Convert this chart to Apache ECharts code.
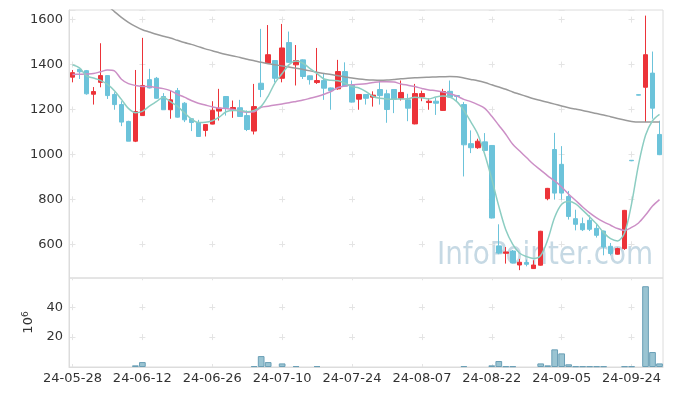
<!DOCTYPE html>
<html><head><meta charset="utf-8">
<script src="https://cdn.jsdelivr.net/npm/echarts@6/dist/echarts.min.js"></script>
<style>html,body{margin:0;padding:0;background:#fff}#c{width:673px;height:396px}</style>
</head><body><div id="c"></div>
<script>
const dates = ['24-05-28','24-05-29','24-05-30','24-05-31',
'24-06-03','24-06-04','24-06-05','24-06-07','24-06-10','24-06-11','24-06-12','24-06-13','24-06-14','24-06-17','24-06-18','24-06-19','24-06-20','24-06-21','24-06-24','24-06-25','24-06-26','24-06-27','24-06-28',
'24-07-01','24-07-02','24-07-03','24-07-04','24-07-05','24-07-08','24-07-09','24-07-10','24-07-11','24-07-12','24-07-15','24-07-16','24-07-17','24-07-18','24-07-19','24-07-22','24-07-23','24-07-24','24-07-25','24-07-26','24-07-29','24-07-30','24-07-31',
'24-08-01','24-08-02','24-08-05','24-08-06','24-08-07','24-08-08','24-08-09','24-08-12','24-08-13','24-08-14','24-08-16','24-08-19','24-08-20','24-08-21','24-08-22','24-08-23','24-08-26','24-08-27','24-08-28','24-08-29','24-08-30',
'24-09-02','24-09-03','24-09-04','24-09-05','24-09-06','24-09-09','24-09-10','24-09-11','24-09-12','24-09-13','24-09-19','24-09-20','24-09-23','24-09-24','24-09-25','24-09-26','24-09-27','24-09-30'];

const openP  = [1344,1379,1373,1268,1321,1351,1267,1222,1147,1059,1173,1333,1339,1258,1199,1284,1228,1159,1142,1107,1135,1193,1258,1200,1208,1173,1104,1317,1406,1418,1339,1498,1399,1421,1350,1320,1329,1296,1292,1369,1310,1246,1267,1255,1289,1270,1289,1250,1243,1136,1256,1231,1237,1196,1281,1262,1222,1048,1030,1056,1040,593,560,570,508,519,492,507,803,1022,956,813,714,692,707,671,659,591,556,581,974,1266,1299,1362,1089];
const closeP = [1364,1368,1270,1280,1351,1262,1222,1144,1059,1191,1307,1296,1250,1199,1243,1166,1154,1142,1080,1133,1196,1206,1208,1209,1169,1111,1213,1289,1444,1339,1474,1410,1418,1347,1333,1329,1295,1284,1369,1304,1233,1267,1250,1264,1262,1200,1246,1276,1206,1271,1271,1237,1228,1280,1255,1258,1043,1030,1059,1018,717,561,566,517,520,511,508,658,849,828,828,724,689,665,667,640,588,559,581,751,972,1264,1444,1206,999];
const lowP   = [1321,1336,1266,1222,1299,1247,1199,1126,1059,1055,1173,1294,1248,1199,1159,1164,1144,1104,1078,1080,1134,1151,1173,1163,1167,1104,1089,1255,1403,1321,1321,1408,1307,1336,1311,1314,1243,1199,1288,1302,1231,1199,1222,1213,1222,1141,1184,1240,1148,1134,1237,1199,1176,1194,1253,1235,902,1006,1025,1015,715,556,514,515,485,502,490,505,796,799,799,710,662,659,659,630,551,551,554,575,970,1263,1144,1159,997];
const highP  = [1376,1381,1376,1300,1495,1352,1277,1237,1150,1376,1519,1381,1345,1273,1284,1296,1233,1161,1154,1134,1237,1292,1260,1240,1243,1196,1314,1559,1576,1420,1581,1547,1487,1423,1352,1474,1361,1298,1421,1410,1329,1269,1269,1281,1329,1288,1291,1329,1270,1314,1284,1250,1252,1292,1329,1265,1233,1107,1070,1095,1042,689,588,575,535,532,529,660,851,1096,1037,837,754,719,729,689,661,606,585,753,975,1267,1618,1458,1150];

const ma5  = [1399,1385,1350,1340,1330,1312,1284,1245,1205,1186,1192,1215,1235,1255,1235,1215,1186,1158,1142,1143,1150,1166,1190,1196,1196,1190,1196,1214,1260,1320,1360,1400,1416,1406,1382,1360,1336,1330,1328,1317,1302,1296,1280,1258,1250,1247,1246,1247,1248,1255,1252,1247,1256,1260,1256,1235,1196,1145,1090,1000,890,770,665,600,560,545,537,550,620,720,778,790,780,752,722,690,652,625,615,650,780,955,1085,1150,1178];
const ma20 = [1356,1357,1358,1360,1368,1376,1372,1335,1315,1307,1303,1302,1298,1293,1284,1268,1255,1240,1228,1220,1212,1206,1205,1200,1192,1188,1190,1210,1215,1220,1225,1230,1236,1242,1250,1258,1268,1280,1298,1305,1310,1312,1315,1320,1324,1324,1322,1314,1308,1302,1294,1287,1284,1278,1270,1260,1245,1235,1222,1205,1170,1130,1090,1045,1015,985,955,930,905,882,855,823,795,766,740,718,700,685,670,662,675,695,730,770,799];
const ma60 = [1775,1750,1725,1703,1683,1662,1636,1610,1588,1570,1555,1545,1535,1526,1518,1508,1498,1490,1480,1470,1462,1453,1445,1438,1432,1424,1417,1410,1404,1399,1394,1389,1384,1378,1372,1366,1360,1356,1350,1345,1340,1336,1333,1331,1330,1331,1334,1337,1339,1341,1343,1344,1345,1346,1347,1346,1340,1334,1328,1320,1310,1300,1290,1278,1268,1258,1248,1240,1232,1224,1216,1208,1202,1196,1189,1182,1176,1168,1160,1153,1147,1144,1144,1144,1144];

// volume in millions (null: too small to show)
const volume = [null,null,null,null,null,null,null,null,null,1.1,3.3,null,null,null,null,null,null,null,null,null,null,null,null,null,null,null,0.6,7.3,3.3,null,2.4,null,0.6,null,null,0.6,null,null,null,null,null,null,null,null,null,null,null,null,null,null,null,null,null,null,null,null,0.6,null,null,null,1.1,4.0,0.5,0.5,null,null,null,2.4,1.1,11.8,9.1,1.8,0.5,0.5,0.5,0.5,0.5,null,null,0.5,0.5,null,54,10,2.4];

const UP = '#ec3339', DOWN = '#6cc3da';
const gridColor = '#e4e4e4';
const labelFont = {fontFamily: 'DejaVu Sans', fontSize: 13, color: '#333'};

const candleData = dates.map((d, i) => [openP[i], closeP[i], lowP[i], highP[i]]);

const chart = echarts.init(document.getElementById('c'), null, {renderer: 'canvas'});
chart.setOption({
  animation: false,
  backgroundColor: '#fff',
  grid: [
    {left: 69, top: 10, width: 594, height: 268, show: true, borderColor: '#dcdcdc', borderWidth: 1},
    {left: 69, top: 278, width: 594, height: 89, show: true, borderColor: '#dcdcdc', borderWidth: 1}
  ],
  graphic: [{
    type: 'text', x: 437, y: 256, scaleX: 0.87, z: -10,
    style: {text: 'InfoPointer.com', fill: '#c6d9e4', font: '32px "DejaVu Sans"', textVerticalAlign: 'middle'}
  }],
  xAxis: [
    {type: 'category', gridIndex: 0, data: dates, boundaryGap: true,
     axisLine: {show: false}, axisTick: {show: false}, axisLabel: {show: false, interval: 9},
     splitLine: {show: true, interval: 9, alignWithLabel: true,
       lineStyle: {color: gridColor, width: 1, type: [6, 38.93], dashOffset: 38.3}}},
    {type: 'category', gridIndex: 1, data: dates, boundaryGap: true,
     axisLine: {show: true, lineStyle: {color: '#dcdcdc'}}, axisTick: {show: false},
     axisLabel: Object.assign({interval: 9, margin: 5}, labelFont),
     splitLine: {show: true, interval: 9, alignWithLabel: true,
       lineStyle: {color: gridColor, width: 1, type: [6, 23.9], dashOffset: 3.7}}}
  ],
  yAxis: [
    {type: 'value', gridIndex: 0, min: 450, max: 1643, splitNumber: 5,
     axisLine: {show: true, lineStyle: {color: '#dcdcdc'}}, axisTick: {show: false},
     axisLabel: Object.assign({margin: 6, showMinLabel: false, showMaxLabel: false,
       formatter: v => String(v)}, labelFont),
     splitLine: {show: true, lineStyle: {color: gridColor, width: 1, type: [6, 63.88], dashOffset: 69.38}}},
    {type: 'value', gridIndex: 1, min: 0, max: 59.5, interval: 20,
     name: '10{s|6}', nameLocation: 'middle', nameGap: 33, nameRotate: 90,
     nameTextStyle: {fontFamily: 'DejaVu Sans', fontSize: 13, color: '#333',
       rich: {s: {fontFamily: 'DejaVu Sans', fontSize: 9, color: '#333', verticalAlign: 'top', padding: [0,0,6,0]}}},
     axisLine: {show: true, lineStyle: {color: '#dcdcdc'}}, axisTick: {show: false},
     axisLabel: Object.assign({margin: 6, showMinLabel: false, showMaxLabel: false,
       formatter: v => String(v)}, labelFont),
     splitLine: {show: true, lineStyle: {color: gridColor, width: 1, type: [6, 63.88], dashOffset: 69.38}}}
  ],
  series: [
    {type: 'candlestick', xAxisIndex: 0, yAxisIndex: 0, data: candleData, barWidth: 5,
     itemStyle: {color: UP, color0: DOWN, borderColor: UP, borderColor0: DOWN, borderWidth: 1}},
    {type: 'line', xAxisIndex: 0, yAxisIndex: 0, data: ma60, showSymbol: false, smooth: 0.3,
     lineStyle: {color: '#9a9a9a', width: 1.5}, clip: true},
    {type: 'line', xAxisIndex: 0, yAxisIndex: 0, data: ma20, showSymbol: false, smooth: 0.3,
     lineStyle: {color: '#cc8fc6', width: 1.5}},
    {type: 'line', xAxisIndex: 0, yAxisIndex: 0, data: ma5, showSymbol: false, smooth: 0.3,
     lineStyle: {color: '#8ccdc2', width: 1.5}},
    {type: 'bar', xAxisIndex: 1, yAxisIndex: 1, data: volume, barCategoryGap: '4%',
     itemStyle: {color: '#9ac4d2', borderColor: '#6a9fb6', borderWidth: 1}}
  ]
});
</script></body></html>
